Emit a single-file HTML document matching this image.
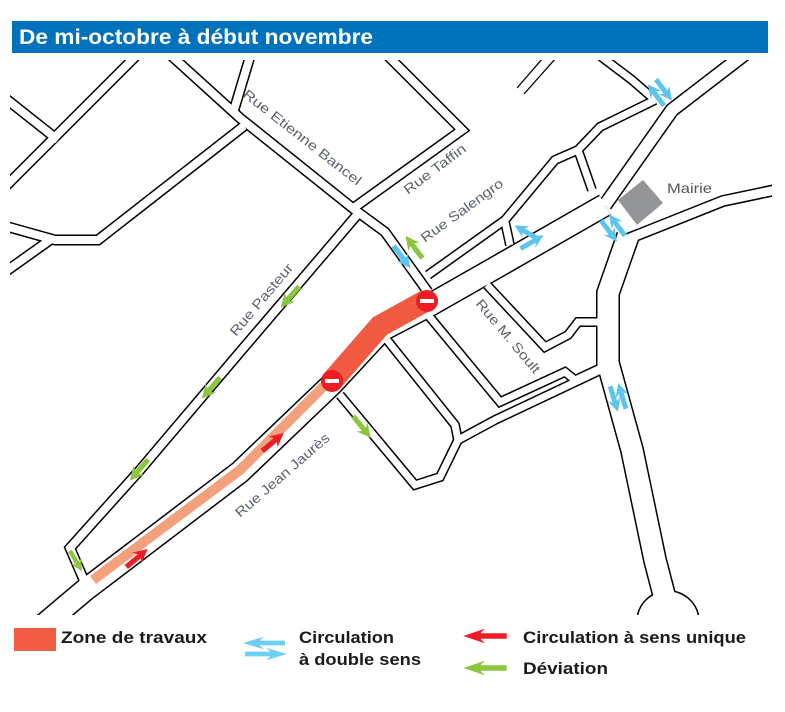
<!DOCTYPE html>
<html><head><meta charset="utf-8"><style>
html,body{margin:0;padding:0;background:#fff;}
svg{display:block;}
text{font-family:"Liberation Sans",sans-serif;}
</style></head><body>
<svg width="785" height="712" viewBox="0 0 785 712" xmlns="http://www.w3.org/2000/svg">
<defs>
<clipPath id="mc"><rect x="10" y="60" width="762" height="555"/></clipPath>
<path id="ar" d="M-14,-2.6 L3,-2.6 L0,-7 L14,0 L0,7 L3,2.6 L-14,2.6 Z"/>
</defs>
<rect x="12" y="21" width="756" height="32" fill="#0071bb"/>
<text x="19" y="44" font-size="21" font-weight="bold" fill="#fff" textLength="354" lengthAdjust="spacingAndGlyphs">De mi-octobre à début novembre</text>

<g clip-path="url(#mc)" fill="none" stroke-linejoin="miter">
<g stroke="#000">
 <path stroke-width="24" d="M40,628 L85,590 L240,472 L332,384 L382,330 L430,305 L495,268 L605,205"/>
 <path stroke-width="11" d="M357,215 L240,352 L140,470 L70,548 L86,585"/>
 <path stroke-width="11" d="M165,50 L240,118 L355,210 L385,232 L428,292"/>
 <path stroke-width="11" d="M252,50 L234,110"/>
 <path stroke-width="11" d="M244,126 L98,240 L55,240 L5,226"/>
 <path stroke-width="11" d="M50,240 L5,272"/>
 <path stroke-width="11" d="M142,50 L5,187"/>
 <path stroke-width="11" d="M5,98 L58,140"/>
 <path stroke-width="11" d="M355,207 L462,130 L382,50"/>
 <path stroke-width="10" d="M428,275 L505,220 L555,160 L578,150 L600,127 L655,100"/>
 <path stroke-width="10" d="M655,100 L632,80 L595,52"/>
 <path stroke-width="10" d="M505,222 L510,245"/>
 <path stroke-width="10" d="M578,150 L592,190"/>
 <path stroke-width="15" d="M605,205 L672,110 L750,50"/>
 <path stroke-width="12" d="M625,240 L723,201 L780,189"/>
 <path stroke-width="24" d="M628,236 L608,293 L608,363 L632,450 L655,560 L668,610"/>
 <circle cx="668" cy="622" r="32" fill="#000" stroke="none"/>
 <path stroke-width="10" d="M428,315 L500,402 L565,372 L575,380 L605,366"/>
 <path stroke-width="10" d="M387,340 L455,425 L458,440"/>
 <path stroke-width="10" d="M340,395 L415,485 L440,477 L458,440 L495,420 L605,368"/>
 <path stroke-width="10" d="M487,285 L545,347 L568,335 L578,322 L605,322"/>
</g>
<g stroke="#fff">
 <path stroke-width="21" d="M40,628 L85,590 L240,472 L332,384 L382,330 L430,305 L495,268 L605,205"/>
 <path stroke-width="8" d="M357,215 L240,352 L140,470 L70,548 L86,585"/>
 <path stroke-width="8" d="M165,50 L240,118 L355,210 L385,232 L428,292"/>
 <path stroke-width="8" d="M252,50 L234,110"/>
 <path stroke-width="8" d="M244,126 L98,240 L55,240 L5,226"/>
 <path stroke-width="8" d="M50,240 L5,272"/>
 <path stroke-width="8" d="M142,50 L5,187"/>
 <path stroke-width="8" d="M5,98 L58,140"/>
 <path stroke-width="8" d="M355,207 L462,130 L382,50"/>
 <path stroke-width="7" d="M428,275 L505,220 L555,160 L578,150 L600,127 L655,100"/>
 <path stroke-width="7" d="M655,100 L632,80 L595,52"/>
 <path stroke-width="7" d="M505,222 L510,245"/>
 <path stroke-width="7" d="M578,150 L592,190"/>
 <path stroke-width="12" d="M605,205 L672,110 L750,50"/>
 <path stroke-width="9" d="M625,240 L723,201 L780,189"/>
 <path stroke-width="21" d="M628,236 L608,293 L608,363 L632,450 L655,560 L668,610"/>
 <circle cx="668" cy="622" r="30.5" fill="#fff" stroke="none"/>
 <path stroke-width="7" d="M428,315 L500,402 L565,372 L575,380 L605,366"/>
 <path stroke-width="7" d="M387,340 L455,425 L458,440"/>
 <path stroke-width="7" d="M340,395 L415,485 L440,477 L458,440 L495,420 L605,368"/>
 <path stroke-width="7" d="M487,285 L545,347 L568,335 L578,322 L605,322"/>
</g>
<path d="M517,88 L543,58 M524,94 L556,58" stroke="#000" stroke-width="1.3"/>
</g>

<path d="M93,580 L240,470 L330,380" stroke="#f4a07c" stroke-width="10" fill="none"/>
<path d="M332,381 L380,326 L427,300" stroke="#ef5a40" stroke-width="22" fill="none"/>
<circle cx="332" cy="381" r="11" fill="#ee1c25"/><rect x="325" y="379" width="14" height="4" fill="#fff"/>
<circle cx="427" cy="301" r="11" fill="#ee1c25"/><rect x="420" y="299" width="14" height="4" fill="#fff"/>

<g fill="#8cc63f">
 <use href="#ar" transform="translate(290,297) rotate(131)"/>
 <use href="#ar" transform="translate(211,388) rotate(131)"/>
 <use href="#ar" transform="translate(139,470) rotate(131)"/>
 <use href="#ar" transform="translate(76,561) rotate(59) scale(0.85)"/>
 <use href="#ar" transform="translate(362,427) rotate(51)"/>
 <use href="#ar" transform="translate(414,247) rotate(-127)"/>
</g>
<g fill="#5bc4ef">
 <use href="#ar" transform="translate(402,257) rotate(53)"/>
 <use href="#ar" transform="translate(526,232) rotate(-150) scale(0.95)"/>
 <use href="#ar" transform="translate(532,242) rotate(-30) scale(0.95)"/>
 <use href="#ar" transform="translate(656,95) rotate(-127) scale(0.95)"/>
 <use href="#ar" transform="translate(664,90) rotate(53) scale(0.95)"/>
 <use href="#ar" transform="translate(609,231) rotate(53) scale(0.95)"/>
 <use href="#ar" transform="translate(617,225) rotate(-127) scale(0.95)"/>
 <use href="#ar" transform="translate(614,399) rotate(73) scale(0.95)"/>
 <use href="#ar" transform="translate(622,396) rotate(-107) scale(0.95)"/>
</g>
<g fill="#ee1c25">
 <use href="#ar" transform="translate(273,442) rotate(-40)"/>
 <use href="#ar" transform="translate(137,558) rotate(-40)"/>
</g>

<polygon points="618,200 643,180 663,203 637,225" fill="#939598"/>
<text x="667" y="193" font-size="14" fill="#555" textLength="45" lengthAdjust="spacingAndGlyphs">Mairie</text>

<g font-size="13.5" fill="#5d6270">
 <text transform="translate(242,96) rotate(38)" textLength="146" lengthAdjust="spacingAndGlyphs">Rue Etienne Bancel</text>
 <text transform="translate(408,195) rotate(-37)" textLength="74" lengthAdjust="spacingAndGlyphs">Rue Taffin</text>
 <text transform="translate(425,243) rotate(-36)" textLength="98" lengthAdjust="spacingAndGlyphs">Rue Salengro</text>
 <text transform="translate(236,337) rotate(-50)" textLength="90" lengthAdjust="spacingAndGlyphs">Rue Pasteur</text>
 <text transform="translate(475,304) rotate(50)" textLength="92" lengthAdjust="spacingAndGlyphs">Rue M. Soult</text>
 <text transform="translate(240,518) rotate(-41)" textLength="120" lengthAdjust="spacingAndGlyphs">Rue Jean Jaurès</text>
</g>

<rect x="14" y="628" width="42" height="23" fill="#f15c42"/>
<g font-size="17" font-weight="bold" fill="#1a1a1a">
 <text x="61" y="643" textLength="146" lengthAdjust="spacingAndGlyphs">Zone de travaux</text>
 <text x="299" y="643" textLength="95" lengthAdjust="spacingAndGlyphs">Circulation</text>
 <text x="299" y="665" textLength="122" lengthAdjust="spacingAndGlyphs">à double sens</text>
 <text x="523" y="643" textLength="223" lengthAdjust="spacingAndGlyphs">Circulation à sens unique</text>
 <text x="523" y="674" textLength="85" lengthAdjust="spacingAndGlyphs">Déviation</text>
</g>
<g fill="#6dcff6">
 <use href="#ar" transform="translate(264,643) rotate(180) scale(1.5,0.9)"/>
 <use href="#ar" transform="translate(266,654) scale(1.5,0.9)"/>
</g>
<use href="#ar" fill="#ee1c25" transform="translate(485,636) rotate(180) scale(1.55,1.05)"/>
<use href="#ar" fill="#8cc63f" transform="translate(485,668) rotate(180) scale(1.55,1.05)"/>
</svg>
</body></html>
